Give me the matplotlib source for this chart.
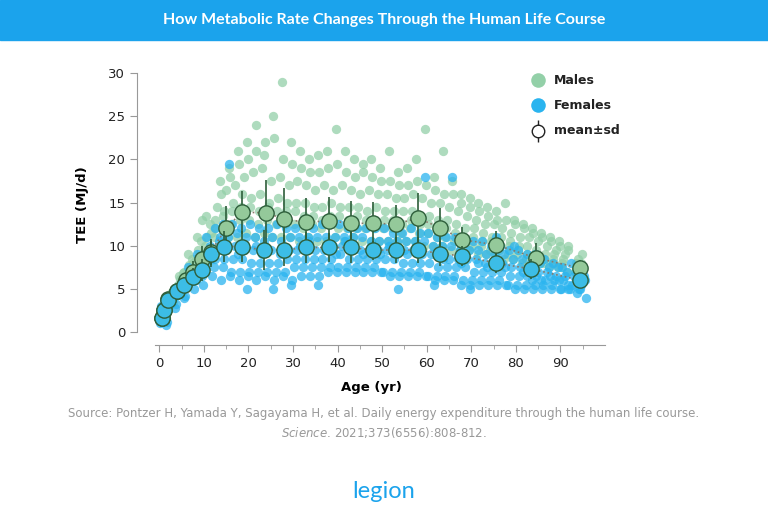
import matplotlib
matplotlib.use("Agg")
import matplotlib.pyplot as plt

# mean +- sd
male_age = [0.5,1,2,4,6,7.5,9.5,11.5,15,18.5,24,28,33,38,43,48,53,58,63,68,75.5,84.5,94.5]
male_mean = [1.6,2.5,3.8,4.8,6.0,7.0,8.5,9.3,12.0,13.9,13.8,13.1,12.7,12.9,12.6,12.6,12.5,13.2,12.1,10.7,10.1,8.6,7.4]
male_sd = [0.3,0.4,0.6,0.8,1.0,1.2,1.5,1.5,2.6,2.5,3.8,3.6,2.8,2.8,2.6,2.5,2.2,2.9,2.3,1.5,1.6,1.7,1.0]
fem_age = [0.5,1,2,4,5.5,7.5,9.5,11.5,14.5,18.5,23.5,28,33,38,43,48,53,58,63,68,75.5,83.5,94.5]
fem_mean = [1.6,2.5,3.7,4.7,5.5,6.4,7.2,9.0,9.9,9.9,9.5,9.5,9.8,9.8,9.8,9.5,9.5,9.5,9.1,8.8,8.0,7.3,6.0]
fem_sd = [0.3,0.4,0.6,0.7,0.9,1.0,1.3,1.5,1.8,1.8,2.3,1.8,1.8,1.7,1.8,1.1,1.5,1.5,1.4,1.2,1.2,1.2,0.9]

# individual subjects: one row of values per age
male_grid_age = [1,3,5,7,9,11,13,15,17,19,21,23,25,27,29,31,33,35,37,39,41,43,45,47,49,51,53,55,57,59,61,63,65,67,69,71,73,75,77,79,81,83,85,87,89,91,94]
male_grid_val = [
 [2.2,2.8,1.8,3.0,2.5,2.0,1.6],[4.0,4.5,3.5,5.0,4.2,3.8,4.8],[5.5,6.2,5.0,6.8,5.8,6.5,7.0],
 [7.0,7.8,6.5,8.5,7.2,9.0,8.0],[8.5,9.5,7.8,10.5,9.0,11.0,13.0],[10.0,11.0,9.0,12.5,9.5,13.5,11.5],
 [11.0,13.0,14.5,10.0,16.0,12.0,17.5],[12.0,14.0,16.5,11.0,18.0,13.5,19.0],[12.5,15.0,17.0,11.0,19.5,14.0,21.0],
 [13.0,16.0,18.0,11.5,20.0,14.5,22.0],[13.0,15.5,18.5,11.0,21.0,14.5,24.0],[12.5,16.0,19.0,11.5,22.0,14.0,20.5],
 [13.0,15.0,17.5,11.0,22.5,14.5,25.0],[12.5,15.5,18.0,11.0,20.0,14.0,29.0],[12.5,15.0,17.0,11.0,19.5,14.0,22.0],
 [12.5,15.0,17.5,10.5,19.0,14.0,21.0],[12.0,15.0,17.0,11.0,18.5,13.5,20.0],[12.5,14.5,16.5,10.5,18.5,13.5,20.5],
 [12.0,14.5,17.0,10.5,19.0,13.0,21.0],[12.5,15.0,16.5,11.0,19.5,13.5,23.5],[12.0,14.5,17.0,10.5,18.5,13.5,21.0],
 [12.0,14.5,16.5,11.0,18.0,13.0,20.0],[12.0,14.5,16.0,10.5,18.5,13.5,19.5],[12.0,14.0,16.5,10.5,18.0,13.0,20.0],
 [12.0,14.5,16.0,10.5,17.5,13.0,19.0],[12.0,14.0,16.0,10.5,17.5,13.0,21.0],[12.0,14.0,15.5,10.5,17.0,13.0,18.5],
 [11.5,14.0,15.5,10.5,17.0,12.5,19.0],[12.0,14.0,16.0,10.5,17.5,13.0,20.0],[11.5,13.5,15.5,10.0,17.0,12.5,23.5],
 [11.5,13.5,15.0,10.0,16.5,12.5,18.0],[11.0,13.0,15.0,10.0,16.0,12.0,21.0],[11.0,13.0,14.5,9.5,16.0,12.0,17.5],
 [10.5,12.5,14.0,9.5,15.0,11.5,16.0],[10.5,12.0,13.5,9.5,14.5,11.0,15.5],[10.0,12.0,13.0,9.0,14.0,11.0,15.0],
 [10.0,11.5,12.5,9.0,13.5,10.5,14.5],[9.5,11.0,12.5,9.0,13.0,10.5,14.0],[9.5,11.0,12.0,8.5,13.0,10.0,15.0],
 [9.0,10.5,11.5,8.5,12.5,10.0,13.0],[9.0,10.0,11.0,8.0,12.0,9.5,12.5],[8.5,10.0,11.0,8.0,11.5,9.0,12.0],
 [8.5,9.5,10.5,8.0,11.0,9.0,11.5],[8.0,9.0,10.0,7.5,10.5,8.5,11.0],[8.0,9.0,9.5,7.5,10.0,8.5,10.5],
 [7.5,8.5,9.0,7.0,9.5,8.0,10.0],[7.0,8.0,8.5,6.5,9.0,7.5,8.0]]
fem_grid_age = [1,3,5,7,9,11,13,15,17,19,21,23,25,27,29,31,33,35,37,39,41,43,45,47,49,51,53,55,57,59,61,63,65,67,69,71,73,75,77,79,81,83,85,87,89,91,93,95]
fem_grid_val = [
 [1.0,1.5,2.0,2.5,1.2,3.0,0.8],[3.0,3.5,4.0,4.5,3.2,3.8,2.8],[4.5,5.0,5.5,6.0,4.2,5.2,4.0],
 [5.5,6.0,6.5,7.0,5.0,7.5,6.2],[6.0,7.0,7.5,8.0,5.5,9.0,6.5],[7.0,8.0,9.0,10.0,6.5,11.0,8.5],
 [7.5,8.5,9.5,10.5,6.0,12.0,11.0],[7.5,8.5,9.5,11.0,6.5,12.5,19.5],[7.0,8.5,10.0,11.5,6.0,12.5,9.0],
 [7.0,8.5,9.5,11.0,6.5,12.0,5.0],[7.0,8.0,9.5,11.0,6.0,12.5,10.0],[7.0,8.0,9.0,10.5,6.5,12.0,10.0],
 [7.0,8.0,9.5,11.0,6.0,12.0,5.0],[7.0,8.0,9.0,10.5,6.5,12.5,9.5],[7.0,8.5,9.5,11.0,6.0,12.0,5.5],
 [7.5,8.5,9.5,11.0,6.5,12.0,10.0],[7.5,8.5,9.5,11.0,6.5,12.5,10.5],[7.5,8.5,9.5,11.0,6.5,12.0,5.5],
 [7.5,8.5,9.5,11.0,7.0,12.5,10.0],[7.5,8.5,10.0,11.0,7.0,12.5,9.0],[7.5,9.0,10.0,11.0,7.0,12.5,10.5],
 [7.5,8.5,9.5,11.0,7.0,12.0,10.0],[7.5,8.5,9.5,11.0,7.0,12.0,9.0],[7.5,8.5,9.5,10.5,7.0,12.0,10.0],
 [7.5,8.5,9.5,10.5,7.0,12.0,9.0],[7.0,8.5,9.5,10.5,6.5,12.0,10.0],[7.0,8.5,9.5,10.5,6.5,11.5,5.0],
 [7.0,8.0,9.5,10.5,6.5,11.5,9.0],[7.0,8.0,9.5,10.5,6.5,12.0,10.0],[7.0,8.0,9.0,10.5,6.5,11.5,18.0],
 [6.5,8.0,9.0,10.0,6.0,11.5,5.5],[6.5,7.5,9.0,10.0,6.0,11.0,8.5],[6.5,7.5,8.5,10.0,6.0,11.0,18.0],
 [6.5,7.5,8.5,9.5,5.5,11.0,8.0],[6.0,7.5,8.5,9.5,5.5,10.5,5.0],[6.0,7.0,8.5,9.5,5.5,10.5,8.0],
 [6.0,7.0,8.0,9.0,5.5,10.5,7.5],[6.0,7.0,8.0,9.0,5.5,10.0,11.0],[6.0,7.0,8.0,9.0,5.5,10.0,7.5],
 [5.5,6.5,7.5,8.5,5.0,9.5,10.0],[5.5,6.5,7.5,8.5,5.0,9.5,7.0],[5.5,6.5,7.0,8.0,5.0,9.0,6.0],
 [5.5,6.5,7.0,8.0,5.0,9.0,6.0],[5.5,6.0,7.0,7.5,5.0,8.5,6.5],[5.5,6.0,6.5,7.5,5.0,8.0,6.0],
 [5.0,6.0,6.5,7.0,5.0,7.5,5.5],[5.0,5.5,6.5,7.0,4.5,8.0,6.0],[5.0,5.5,6.0,6.5,4.0,5.0,6.0]]

GREEN = "#93d0a8"
BLUE = "#2ab4ef"
MEAN_G = "#94c99a"
MEAN_B = "#3cbde6"
EDGE = "#2d5e3a"

fig = plt.figure(figsize=(7.68, 5.21), dpi=100)
fig.patch.set_facecolor("white")

fig.patches.append(plt.Rectangle((0, 1 - 40/521), 1, 40/521, transform=fig.transFigure,
                                 color="#1ba3ec", zorder=0))
fig.text(0.5, 1 - 20/521, "How Metabolic Rate Changes Through the Human Life Course",
         ha="center", va="center", color="white", fontsize=11.5, fontweight="bold", family="Lato")

ax = fig.add_axes([137/768, 1 - 345/521, (605-137)/768, (345-64.5)/521])

# jitter-free offsets within each age row so points don't stack on one vertical line
offs = [-0.8, -0.4, 0.0, 0.4, 0.8, -0.6, 0.6]
mx, my = [], []
for a, row in zip(male_grid_age, male_grid_val):
    for o, v in zip(offs, row):
        mx.append(a + o); my.append(v)
fx, fy = [], []
for a, row in zip(fem_grid_age, fem_grid_val):
    for o, v in zip(offs, row):
        fx.append(a + o); fy.append(v)
ax.scatter(mx, my, s=45, color=GREEN, alpha=0.75, lw=0, zorder=1)
ax.scatter(fx, fy, s=45, color=BLUE, alpha=0.75, lw=0, zorder=2)

ax.plot(male_age, male_mean, ls=":", color="#8a7a6a", lw=1.2, zorder=3)
ax.plot(fem_age, fem_mean, ls=":", color="#8a7a6a", lw=1.2, zorder=3)
ax.errorbar(male_age, male_mean, yerr=male_sd, fmt="o", ms=11, mfc=MEAN_G, mec=EDGE,
            mew=1, ecolor=EDGE, elinewidth=1.2, zorder=4)
ax.errorbar(fem_age, fem_mean, yerr=fem_sd, fmt="o", ms=11, mfc=MEAN_B, mec=EDGE,
            mew=1, ecolor=EDGE, elinewidth=1.2, zorder=5)

ax.set_xlim(-5, 100)
ax.set_ylim(-1.5, 31)
ax.set_xticks(range(0, 91, 10))
ax.set_xticks(range(0, 96, 5), minor=True)
ax.set_yticks(range(0, 31, 5))
for s in ["top", "right"]:
    ax.spines[s].set_visible(False)
ax.spines["left"].set_bounds(0, 30)
ax.spines["bottom"].set_bounds(-1, 100)
for s in ["left", "bottom"]:
    ax.spines[s].set_color("#999999")
ax.tick_params(colors="#999999", labelcolor="#222222", labelsize=9.5, length=5)
ax.tick_params(which="minor", colors="#999999", length=3)
ax.set_xlabel("Age (yr)", fontsize=9.5, fontweight="bold", labelpad=8)
ax.set_ylabel("TEE (MJ/d)", fontsize=9.5, fontweight="bold", labelpad=14)

# legend drawn manually
lx, tx = 85, 88.6
ax.scatter([lx], [29.2], s=110, color=GREEN, lw=0, clip_on=False)
ax.scatter([lx], [26.3], s=110, color=BLUE, lw=0, clip_on=False)
ax.errorbar([lx], [23.3], yerr=[1.3], fmt="o", ms=9, mfc="white", mec="#222222",
            ecolor="#222222", elinewidth=1, clip_on=False)
for y, t in [(29.2, "Males"), (26.3, "Females"), (23.3, "mean±sd")]:
    ax.text(tx, y, t, va="center", ha="left", fontsize=9, fontweight="bold", color="#222222")

fig.text(0.5, 1 - 414/521, "Source: Pontzer H, Yamada Y, Sagayama H, et al. Daily energy expenditure through the human life course.",
         ha="center", va="center", fontsize=8.5, color="#999999")
fig.text(0.5, 1 - 432/521, r"$\it{Science}$" + ". 2021;373(6556):808-812.",
         ha="center", va="center", fontsize=8.5, color="#999999")
fig.text(0.5, 1 - 491/521, "legion", ha="center", va="center", fontsize=17, color="#1ba3ec", family="Lato")

fig.savefig("out.png", dpi=100)
